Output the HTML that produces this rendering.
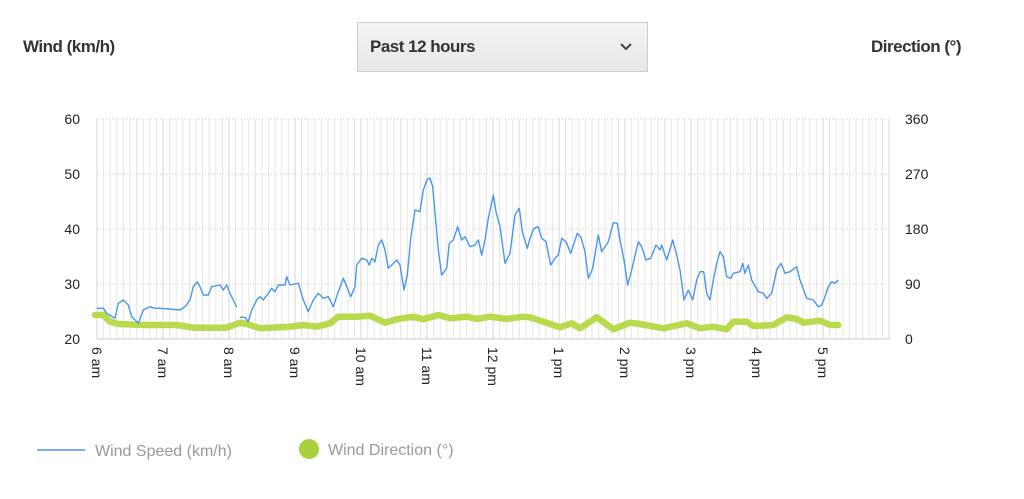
<!DOCTYPE html>
<html><head><meta charset="utf-8"><style>
body{margin:0;background:#fff;width:1024px;height:499px;overflow:hidden;font-family:"Liberation Sans",sans-serif}
.h{position:absolute;font-weight:bold;font-size:17px;color:#333;letter-spacing:-0.5px}
#dd{position:absolute;left:357px;top:22px;width:289px;height:48px;border:1px solid #ccc;background:linear-gradient(#f4f4f4,#e8e8e8)}
</style></head><body>
<div class="h" style="left:23px;top:37px">Wind (km/h)</div>
<div class="h" style="left:871px;top:37px">Direction (°)</div>
<div id="dd"><div class="h" style="left:12px;top:14px">Past 12 hours</div>
<svg style="position:absolute;left:262px;top:20px" width="12" height="8"><path d="M1 1 L6 6 L11 1" stroke="#444" stroke-width="2" fill="none"/></svg></div>
<svg id="c" width="1024" height="499" style="position:absolute;left:0;top:0"></svg>
<script>
const s=document.getElementById('c');let h='';
const L=97,R=889,T=119,B=339;
for(let i=0;i<=120;i++){const x=L+i*(R-L)/120;const hr=i%10==0;
h+=`<line x1="${x}" y1="${T}" x2="${x}" y2="${B}" stroke="${hr?'#d4d4d4':'#e6e6e6'}" stroke-width="1"/>`;}
for(let k=0;k<4;k++){const y=T+k*55;h+=`<line x1="${L}" y1="${y}" x2="${R}" y2="${y}" stroke="#ccc" stroke-dasharray="1,2"/>`;}
h+=`<line x1="${L}" y1="${B}" x2="${R}" y2="${B}" stroke="#ccc"/>`;
const lv=[60,50,40,30,20],rv=[360,270,180,90,0];
for(let k=0;k<5;k++){const y=T+k*55+5;h+=`<text x="80" y="${y}" text-anchor="end" font-size="14" fill="#222">${lv[k]}</text><text x="905" y="${y}" font-size="14" fill="#222">${rv[k]}</text>`;}
const lab=['6 am','7 am','8 am','9 am','10 am','11 am','12 pm','1 pm','2 pm','3 pm','4 pm','5 pm'];
lab.forEach((t,i)=>{const x=L+i*66-5;h+=`<text transform="translate(${x},347) rotate(90)" font-size="14" fill="#222">${t}</text>`;});
function conv(a,ox,oy){const r=[];for(let i=0;i<a.length;i+=2)r.push([ox+a[i]/3,oy+a[i+1]/3]);return r;}
function merge(a,b){return a.filter(p=>p[0]<b[0][0]).concat(b);}
const b1=conv([110,625,130,625,140,640,165,655,175,610,190,600,205,615,215,650,235,670,250,630,270,620,285,625,300,625,360,630,375,620,390,600,400,560,412,545,420,560,430,585,445,585,455,560,480,555,490,570,500,555,510,580,520,600,530,622],60,100);
let b2=conv([540,652,555,652,565,665,575,630,590,600,600,590,610,600,625,580,635,565,645,575,655,555,675,555,680,530,690,555,715,548,725,580,740,630,750,610,765,590,780,580],60,100);
b2=merge(b2,conv([0,375,25,370,40,420,55,455,70,420,85,400,100,415,115,410,130,440,145,395,160,355,170,380,182,410,195,380,200,315,215,295,230,300,238,315,245,295,255,305,265,255,275,240,285,270,295,325,305,315,320,300,330,315,342,390,352,345,362,235,375,150,390,155,400,90,412,58,420,55,428,80,438,190,445,270,455,345,470,325,478,250,490,240,503,200,515,240,525,230,540,260,555,255,565,240,575,285,585,240,595,175,610,105,618,155,630,200,645,310,660,280,675,165,688,145,697,215,712,265,732,205,742,230],290,160));
b2=merge(b2,conv([0,175,12,145,25,140,35,175,48,185,62,255,75,235,85,225,95,175,108,185,122,220,142,160,152,170,165,215,175,295,188,265,205,165,215,215,235,185,250,128,262,130,270,180,282,240,293,315,305,270,325,185,335,200,348,240,362,235,378,195,390,210,395,195,410,240,428,180,440,225,450,270,462,360,475,330,488,360,500,300,510,275,520,275,530,340,540,355,550,265,570,215,580,240,590,295,610,295,620,285,635,255,645,280,660,255,670,290,680,300,690,340,705,340,710,355,725,345,735,305,750,255],530,180));
b2=merge(b2,conv([12,520,20,580,30,600,40,540,50,490,60,455,70,470,80,530,92,535,100,520,120,515,128,490,135,520,145,495,155,540,175,575,190,580,200,595,215,580,230,510,243,490,255,520,270,515,290,500,300,540,320,595,340,600,355,620,365,615,375,590,385,560,395,545,405,550,415,540],700,100));
let g=conv([105,645,130,645,150,665,175,672,250,675,350,675,400,683,500,683,540,668,560,672,600,685,700,688,740,675,780,680],60,100);
g=merge(g,conv([0,500,40,495,80,500,120,490,145,470,200,470,240,467,285,488,320,478,370,470,400,478,445,465,480,475,530,470,560,477,600,470,650,477,700,470,745,485],290,160));
g=merge(g,conv([0,412,40,425,90,442,125,430,150,445,200,412,250,448,300,428,330,432,400,445,470,430,520,452,560,438,600,432,650,425,680,435,725,432,750,420],530,180));
g=merge(g,conv([0,685,40,680,80,688,100,665,140,665,160,678,220,675,260,652,290,657,310,668,360,662,390,675,415,675],700,100));
const P=a=>a.map(p=>p[0].toFixed(1)+','+p[1].toFixed(1)).join(' ');
h+=`<polyline points="${P(g)}" fill="none" stroke="#b8da4c" stroke-width="6.5" stroke-linejoin="round" stroke-linecap="round"/>`;
h+=`<polyline points="${P(b1)}" fill="none" stroke="#4a95f0" stroke-width="1.4" stroke-linejoin="round"/><polyline points="${P(b2)}" fill="none" stroke="#4a95f0" stroke-width="1.4" stroke-linejoin="round"/>`;
h+=`<line x1="37" y1="450" x2="85" y2="450" stroke="#4a95f0" stroke-width="1.5"/><text x="95" y="456" font-size="16" fill="#999">Wind Speed (km/h)</text>`;
h+=`<circle cx="309" cy="449" r="10" fill="#a9d13e"/><text x="328" y="455" font-size="16" fill="#999">Wind Direction (°)</text>`;
s.innerHTML=h;
</script>
</body></html>
